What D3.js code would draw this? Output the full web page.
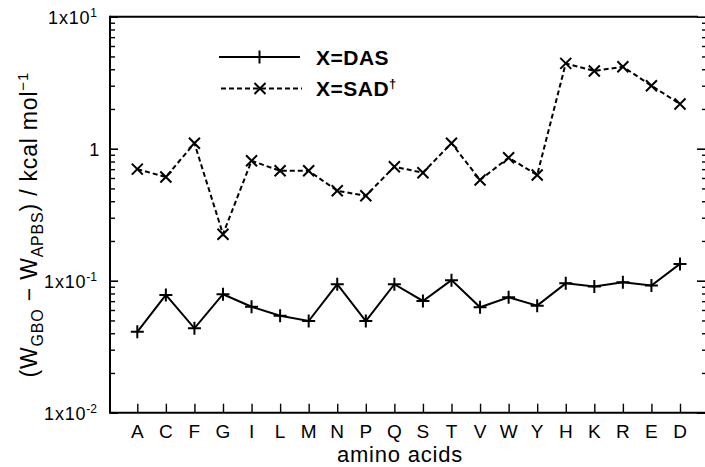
<!DOCTYPE html>
<html>
<head>
<meta charset="utf-8">
<script src="https://cdn.jsdelivr.net/npm/d3@7"></script>
<style>
  body { margin: 0; background: #fff; }
  text { font-family: "Liberation Sans", Arial, Helvetica, sans-serif; fill: #000; }
</style>
</head>
<body>
<div class="chart"></div>
<script>
// amino acid categories along the x axis
const aminoAcids = ['A', 'C', 'F', 'G', 'I', 'L', 'M', 'N', 'P', 'Q', 'S', 'T', 'V', 'W', 'Y', 'H', 'K', 'R', 'E', 'D'];

// X=DAS series (solid, plus markers)
const dasValues = [0.041, 0.078, 0.0436, 0.079, 0.0635, 0.0543, 0.0495, 0.094, 0.0495, 0.094,
  0.0702, 0.101, 0.0629, 0.0748, 0.0647, 0.0955, 0.0905, 0.0973, 0.092, 0.134];

// X=SAD series (dashed, cross markers)
const sadValues = [0.70, 0.61, 1.10, 0.225, 0.81, 0.68, 0.68, 0.48, 0.44, 0.73,
  0.658, 1.10, 0.58, 0.855, 0.632, 4.43, 3.88, 4.18, 3.0, 2.18];

// y axis ticks (decades) and their labels
const yTicks = [0.01, 0.1, 1, 10];
const yTickLabels = [['1x10', '-2'], ['1x10', '-1'], ['1', ''], ['1x10', '1']];

const width = 705, height = 467;
const plotLeft = 110, plotTop = 16.7, plotBottom = 412.7, plotRight = 705;

const svg = d3.select('.chart')
  .append('svg')
  .attr('width', width)
  .attr('height', height);

// scales
const x = d3.scaleLinear()
  .domain([0, aminoAcids.length - 1])
  .range([137.3, 680]);

const y = d3.scaleLog()
  .domain([0.01, 10])
  .range([plotBottom, plotTop]);

// minor ticks 2..9 in each decade
const minorTicks = [];
for (let d = 0; d < yTicks.length - 1; d++) {
  for (let m = 2; m <= 9; m++) minorTicks.push(yTicks[d] * m);
}

// left axis: ticks pointing inward
svg.append('g')
  .attr('transform', `translate(${plotLeft},0)`)
  .call(d3.axisRight(y).tickValues(yTicks).tickSize(8).tickFormat(''))
  .call(g => g.select('.domain').remove())
  .call(g => g.selectAll('line').attr('stroke-width', 1.6));

svg.append('g')
  .attr('transform', `translate(${plotLeft},0)`)
  .call(d3.axisRight(y).tickValues(minorTicks).tickSize(5).tickFormat(''))
  .call(g => g.select('.domain').remove())
  .call(g => g.selectAll('line').attr('stroke-width', 1.4));

// right axis: ticks pointing inward
svg.append('g')
  .attr('transform', `translate(${plotRight},0)`)
  .call(d3.axisLeft(y).tickValues(yTicks).tickSize(8).tickFormat(''))
  .call(g => g.select('.domain').remove())
  .call(g => g.selectAll('line').attr('stroke-width', 1.6));

svg.append('g')
  .attr('transform', `translate(${plotRight},0)`)
  .call(d3.axisLeft(y).tickValues(minorTicks).tickSize(3).tickFormat(''))
  .call(g => g.select('.domain').remove())
  .call(g => g.selectAll('line').attr('stroke-width', 1.4));

// bottom axis: ticks pointing up
svg.append('g')
  .attr('transform', `translate(0,${plotBottom})`)
  .call(d3.axisTop(x).tickValues(d3.range(aminoAcids.length)).tickSize(9).tickFormat(''))
  .call(g => g.select('.domain').remove())
  .call(g => g.selectAll('line').attr('stroke-width', 1.4));

// frame lines
svg.append('line')
  .attr('x1', plotLeft).attr('x2', plotLeft).attr('y1', plotTop - 1).attr('y2', plotBottom + 1)
  .attr('stroke', '#000').attr('stroke-width', 2);
svg.append('line')
  .attr('x1', plotLeft).attr('x2', 698).attr('y1', plotTop).attr('y2', plotTop)
  .attr('stroke', '#000').attr('stroke-width', 2);
svg.append('line')
  .attr('x1', plotLeft).attr('x2', plotRight).attr('y1', plotBottom).attr('y2', plotBottom)
  .attr('stroke', '#000').attr('stroke-width', 2);

// x tick labels
svg.append('g')
  .selectAll('text')
  .data(aminoAcids)
  .enter()
  .append('text')
  .attr('x', (d, i) => x(i))
  .attr('y', plotBottom + 25)
  .attr('text-anchor', 'middle')
  .attr('font-size', 19)
  .text(d => d);

// y tick labels with superscripts
const yLabels = svg.append('g')
  .selectAll('text')
  .data(yTicks)
  .enter()
  .append('text')
  .attr('x', (d, i) => yTickLabels[i][1] ? 97 : 100)
  .attr('y', d => y(d) + 7.5)
  .attr('text-anchor', 'end')
  .attr('font-size', 18)
  .attr('letter-spacing', 0.8);

yLabels.append('tspan').text((d, i) => yTickLabels[i][0]);
yLabels.append('tspan')
  .attr('font-size', 12)
  .attr('dy', -7)
  .attr('letter-spacing', 0)
  .text((d, i) => yTickLabels[i][1]);

// axis titles
svg.append('text')
  .attr('x', 400)
  .attr('y', 462)
  .attr('text-anchor', 'middle')
  .attr('font-size', 22)
  .attr('letter-spacing', 0.8)
  .text('amino acids');

const yTitle = svg.append('text')
  .attr('transform', `translate(37,${(plotTop + plotBottom) / 2 + 10}) rotate(-90)`)
  .attr('text-anchor', 'middle')
  .attr('font-size', 23)
  .attr('letter-spacing', 0.8);
yTitle.append('tspan').text('(W');
yTitle.append('tspan').attr('font-size', 16).attr('dy', 6).text('GBO');
yTitle.append('tspan').attr('dy', -6).text(' \u2212 W');
yTitle.append('tspan').attr('font-size', 16).attr('dy', 6).text('APBS');
yTitle.append('tspan').attr('dy', -6).text(') / kcal mol');
yTitle.append('tspan').attr('font-size', 15).attr('dy', -9).text('\u22121');

// lines
const line = d3.line()
  .x((d, i) => x(i))
  .y(d => y(d));

svg.append('path')
  .datum(sadValues)
  .attr('d', line)
  .attr('fill', 'none')
  .attr('stroke', '#000')
  .attr('stroke-width', 2)
  .attr('stroke-dasharray', '5,3');

svg.append('path')
  .datum(dasValues)
  .attr('d', line)
  .attr('fill', 'none')
  .attr('stroke', '#000')
  .attr('stroke-width', 2);

// markers
const plusPath = s => `M${-s},0H${s}M0,${-s}V${s}`;
const crossPath = s => `M${-s},${-s}L${s},${s}M${-s},${s}L${s},${-s}`;

svg.append('g')
  .selectAll('path')
  .data(dasValues)
  .enter()
  .append('path')
  .attr('transform', (d, i) => `translate(${x(i)},${y(d)})`)
  .attr('d', plusPath(6.5))
  .attr('stroke', '#000')
  .attr('stroke-width', 2);

svg.append('g')
  .selectAll('path')
  .data(sadValues)
  .enter()
  .append('path')
  .attr('transform', (d, i) => `translate(${x(i)},${y(d)})`)
  .attr('d', crossPath(5.5))
  .attr('stroke', '#000')
  .attr('stroke-width', 2);

// legend
const legend = svg.append('g');
legend.append('line')
  .attr('x1', 219).attr('x2', 300).attr('y1', 57).attr('y2', 57)
  .attr('stroke', '#000').attr('stroke-width', 2);
legend.append('path')
  .attr('transform', 'translate(259.5,57)')
  .attr('d', plusPath(6.5))
  .attr('stroke', '#000').attr('stroke-width', 2);
legend.append('text')
  .attr('x', 316).attr('y', 65)
  .attr('font-size', 21)
  .attr('font-weight', 'bold')
  .attr('letter-spacing', 0.5)
  .text('X=DAS');

legend.append('line')
  .attr('x1', 221).attr('x2', 302).attr('y1', 88.5).attr('y2', 88.5)
  .attr('stroke', '#000').attr('stroke-width', 2)
  .attr('stroke-dasharray', '5,3');
legend.append('path')
  .attr('transform', 'translate(260,88.5)')
  .attr('d', crossPath(5.5))
  .attr('stroke', '#000').attr('stroke-width', 2);
const sadLabel = legend.append('text')
  .attr('x', 316).attr('y', 96)
  .attr('font-size', 21)
  .attr('font-weight', 'bold')
  .attr('letter-spacing', 0.5);
sadLabel.append('tspan').text('X=SAD');
sadLabel.append('tspan').attr('font-size', 13).attr('dy', -8).text('\u2020');
</script>
</body>
</html>
